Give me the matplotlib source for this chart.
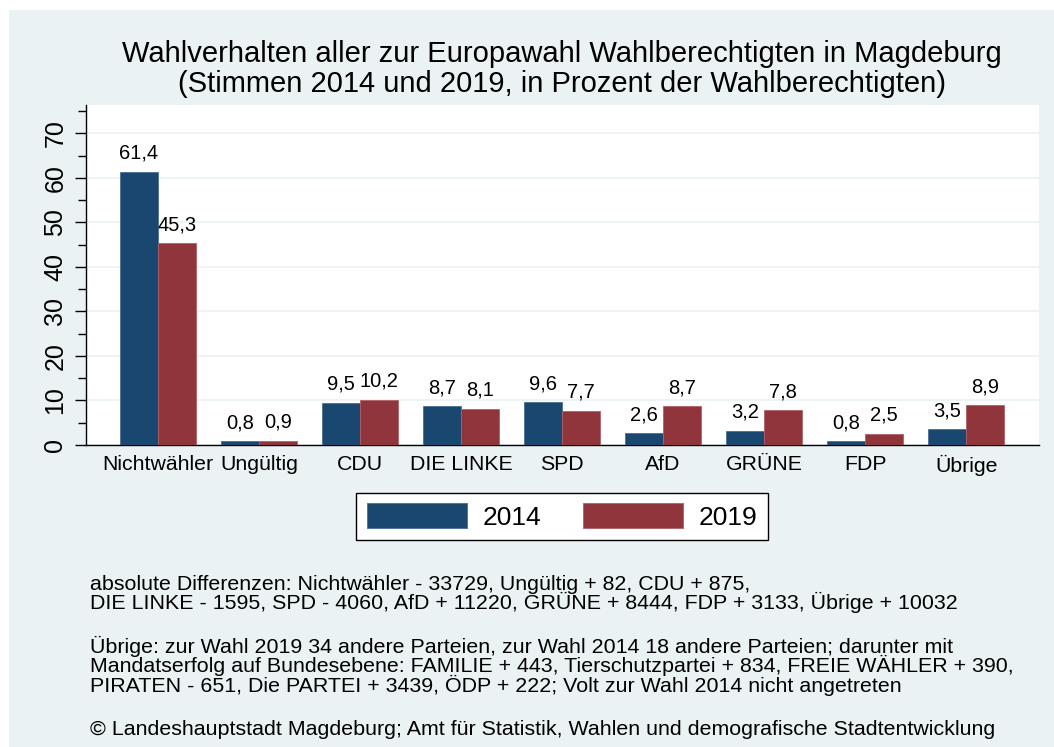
import matplotlib
matplotlib.use("Agg")
import matplotlib.pyplot as plt
from matplotlib.patches import Rectangle
import numpy as np

categories = ["Nichtwähler", "Ungültig", "CDU", "DIE LINKE", "SPD", "AfD", "GRÜNE", "FDP", "Übrige"]
values_2014 = [61.4, 0.8, 9.5, 8.7, 9.6, 2.6, 3.2, 0.8, 3.5]
values_2019 = [45.3, 0.9, 10.2, 8.1, 7.7, 8.7, 7.8, 2.5, 8.9]
series_labels = ["2014", "2019"]
yticks = [0, 10, 20, 30, 40, 50, 60, 70]

title_lines = ["Wahlverhalten aller zur Europawahl Wahlberechtigten in Magdeburg",
               "(Stimmen 2014 und 2019, in Prozent der Wahlberechtigten)"]
note_lines = [
    "absolute Differenzen: Nichtwähler - 33729, Ungültig + 82, CDU + 875,",
    "DIE LINKE - 1595, SPD - 4060, AfD + 11220, GRÜNE + 8444, FDP + 3133, Übrige + 10032",
    "Übrige: zur Wahl 2019 34 andere Parteien, zur Wahl 2014 18 andere Parteien; darunter mit",
    "Mandatserfolg auf Bundesebene: FAMILIE + 443, Tierschutzpartei + 834, FREIE WÄHLER + 390,",
    "PIRATEN - 651, Die PARTEI + 3439, ÖDP + 222; Volt zur Wahl 2014 nicht angetreten",
    "© Landeshauptstadt Magdeburg; Amt für Statistik, Wahlen und demografische Stadtentwicklung",
]
note_baselines = [590, 609, 653, 672, 692, 735]

plt.rcParams['font.family'] = ['Liberation Sans', 'DejaVu Sans']

W, H = 1054, 747
fig = plt.figure(figsize=(W / 100, H / 100), dpi=100, facecolor="white")
bg = "#eaf2f3"
fig.patches.append(Rectangle((9 / W, 0), 1 - 9 / W, 1 - 10 / H, transform=fig.transFigure,
                             facecolor=bg, edgecolor="none", zorder=-10))

ax = fig.add_axes([86 / W, 1 - 445 / H, (1039 - 86) / W, (445 - 105) / H])
ax.set_facecolor("white")

c14 = "#1a476f"
c19 = "#90353b"
x = np.arange(len(categories))
bw = 0.376
b1 = ax.bar(x - bw / 2, values_2014, bw, color=c14, edgecolor="#4a6f94", linewidth=0.6, zorder=3)
b2 = ax.bar(x + bw / 2, values_2019, bw, color=c19, edgecolor="#b06068", linewidth=0.6, zorder=3)

def fmt(v):
    return f"{v:.1f}".replace(".", ",")

for bars, vals in ((b1, values_2014), (b2, values_2019)):
    for r, v in zip(bars, vals):
        ax.annotate(fmt(v), (r.get_x() + r.get_width() / 2, v), xytext=(0, 9.4),
                    textcoords="offset points", ha="center", va="baseline",
                    fontsize=14.5, color="black", zorder=4)

ax.set_xlim(-0.71, 8.72)
ax.set_ylim(0, 76.4)
ax.set_yticks(yticks)
ax.set_yticks(np.arange(5, 76, 10), minor=True)
ax.set_yticklabels([str(t) for t in yticks], rotation=90, va="center", fontsize=18)
ax.tick_params(axis="y", which="major", length=8, width=1.0, pad=5.5)
ax.tick_params(axis="y", which="minor", length=6, width=1.0)
ax.set_xticks(x)
ax.set_xticklabels(categories, fontsize=15.3)
ax.tick_params(axis="x", length=0, pad=7)
ax.grid(axis="y", which="major", color=bg, linewidth=1.2, zorder=1)
for s in ("top", "right"):
    ax.spines[s].set_visible(False)
ax.spines["left"].set_linewidth(1.0)
ax.spines["bottom"].set_linewidth(1.0)

for line, yb in zip(title_lines, [62, 92]):
    fig.text(562 / W, 1 - yb / H, line, ha="center", va="baseline", fontsize=21)

leg = ax.legend([b1, b2], series_labels, loc="center", bbox_to_anchor=(562 / W, 1 - 516.5 / H),
                bbox_transform=fig.transFigure, ncol=2, frameon=True, fancybox=False,
                fontsize=19, handlelength=3.8, handleheight=1.06, columnspacing=1.6,
                handletextpad=0.57, borderpad=0.4, borderaxespad=0, framealpha=1)
leg.get_frame().set_edgecolor("black")
leg.get_frame().set_linewidth(1.0)
leg.get_frame().set_facecolor("white")

for line, yb in zip(note_lines, note_baselines):
    fig.text(90 / W, 1 - yb / H, line, ha="left", va="baseline", fontsize=15.4)

fig.savefig("out.png", dpi=100, facecolor="white")
